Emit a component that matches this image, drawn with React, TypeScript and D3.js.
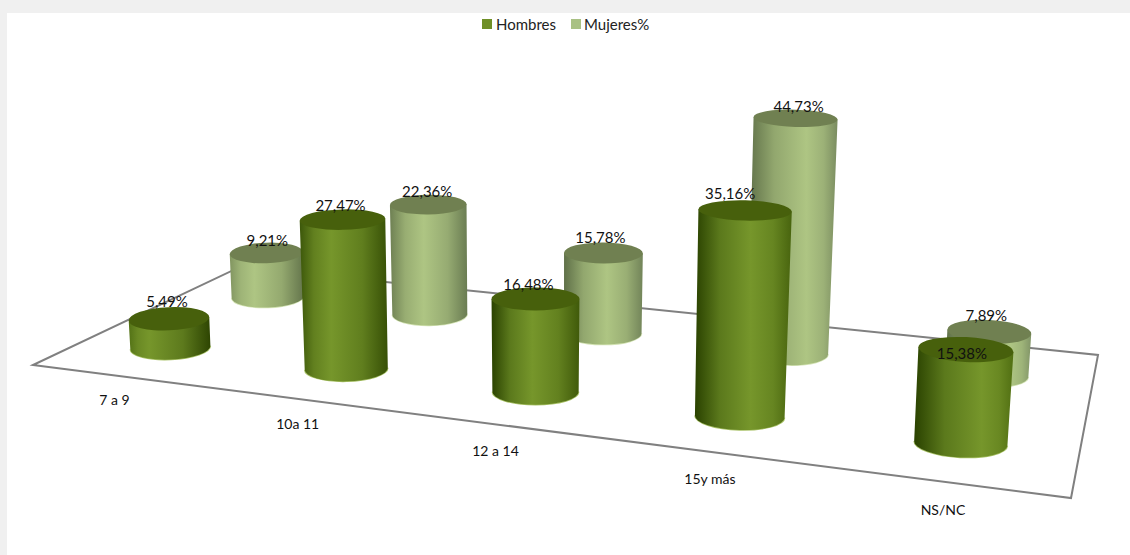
import React from "react";
import * as d3 from "d3";

const categories = ["7 a 9", "10a 11", "12 a 14", "15y más", "NS/NC"];
const seriesNames = ["Hombres", "Mujeres%"];
const hombres = [5.49, 27.47, 16.48, 35.16, 15.38];
const mujeres = [9.21, 22.36, 15.78, 44.73, 7.89];
const hombresText = ["5,49%", "27,47%", "16,48%", "35,16%", "15,38%"];
const mujeresText = ["9,21%", "22,36%", "15,78%", "44,73%", "7,89%"];

const W = 1130, H = 555;
// floor homography, unit square -> screen
const A = 843.1, B = 258.7, C = 33, D = 42.4, E = -40.5, F = 365, G = -0.182, I = 0.2155;
const project = (u: number, v: number) => {
  const w = G * u + I * v + 1;
  return { x: (A * u + B * v + C) / w, y: (D * u + E * v + F) / w, w };
};
const uScale = d3.scaleBand<number>().domain(d3.range(5)).range([0, 1]);
const uLabel = d3.scaleLinear().domain([0, 4]).range([0.135, 0.905]);
const vScale = d3.scaleOrdinal<number, number>().domain([0, 1]).range([0.225, 0.725]);
const hScale = d3.scaleLinear().domain([0, 50]).range([0, 270]);
const peak = d3.scaleLinear().domain([0.1, 0.9]).range([0.25, 0.68]);
const baseLift = 2;

const palettes = [
  { top: "#47600c", bright: "#76962b", rim: "#a9c268", l0: "#5f7f1c", l1: "#2a4200", r0: "#2a4000", r1: "#557414" },
  { top: "#708051", bright: "#aec583", rim: "#d3e3b4", l0: "#8b9f67", l1: "#5f7048", r0: "#5f7048", r1: "#85986a" },
];
// label nudges relative to the top of each cylinder
const labelDx = [[-2, -2, -7, -15, -4], [1, -1, -3, 3, -3]];
const labelDy = [[-18, -15, -15, -17, 3], [-13, -14, -16, -12, -17]];

const clamp = (t: number) => Math.max(0, Math.min(1, t));

function Cylinder({ s, i, value }: { s: number; i: number; value: number }) {
  const u = uScale(i)! + uScale.bandwidth() / 2;
  const q = project(u, vScale(s));
  const p = { x: q.x, y: q.y - baseLift, w: q.w };
  const pal = palettes[s];
  const h = hScale(value) / p.w;
  const rx = 41.3 / p.w;
  const ry = rx * 0.3;
  const tiltDeg = (p.x - 540) * 0.007;
  const t = (tiltDeg * Math.PI) / 180;
  const tx = p.x + (p.x - 540) * h * 1.3e-4;
  const ty = p.y - h;
  const trx = rx * (1 + h * 0.0002);
  const tryy = ry * (1 - h * 0.0012);
  const cx = Math.cos(t), sy = Math.sin(t);
  const bl = [p.x - rx * cx, p.y - rx * sy], br = [p.x + rx * cx, p.y + rx * sy];
  const tl = [tx - trx * cx, ty - trx * sy], tr = [tx + trx * cx, ty + trx * sy];
  const body = `M${tl} L${bl} A${rx} ${ry} ${tiltDeg} 0 0 ${br} L${tr} Z`;
  const rim = `M${bl} A${rx} ${ry} ${tiltDeg} 0 0 ${br}`;
  const id = `g${s}${i}`;
  const left = d3.interpolateRgb(pal.l0, pal.l1)(clamp(u * 2.2));
  const right = d3.interpolateRgb(pal.r0, pal.r1)(u);
  const pk = peak(u) + (s === 1 ? 0.08 : 0);
  const mixL = d3.interpolateRgb(left, pal.bright)(0.65);
  const mixR = d3.interpolateRgb(right, pal.bright)(0.65);
  return (
    <g>
      <defs>
        <linearGradient id={id} x1="0" x2="1" y1="0" y2="0">
          <stop offset="0" stopColor={left} />
          <stop offset={pk * 0.45} stopColor={mixL} />
          <stop offset={pk} stopColor={pal.bright} />
          <stop offset={pk + (1 - pk) * 0.55} stopColor={mixR} />
          <stop offset="1" stopColor={right} />
        </linearGradient>
      </defs>
      <path d={rim} fill="none" stroke={pal.rim} strokeWidth={1.5} />
      <path d={body} fill={`url(#${id})`} />
      <ellipse cx={tx} cy={ty} rx={trx} ry={tryy} fill={pal.top} transform={`rotate(${tiltDeg} ${tx} ${ty})`} />
    </g>
  );
}

function ValueLabel({ s, i, value, text }: { s: number; i: number; value: number; text: string }) {
  const u = uScale(i)! + uScale.bandwidth() / 2;
  const p = project(u, vScale(s));
  const h = hScale(value) / p.w;
  const tx = p.x + (p.x - 540) * h * 1.3e-4;
  return (
    <text x={tx + labelDx[s][i]} y={p.y - baseLift - h + labelDy[s][i]} textAnchor="middle" dominantBaseline="central"
      fontFamily="Lato" fontSize={15} fill="#111">{text}</text>
  );
}

export default function App() {
  const corners = [project(0, 0), project(1, 0), project(1, 1), project(0, 1)];
  const floor = d3.line<{ x: number; y: number }>().x(d => d.x).y(d => d.y).curve(d3.curveLinearClosed)(corners)!;
  const legend = [{ sx: 482, tx: 496 }, { sx: 571, tx: 584 }];
  return (
    <svg width={W} height={H} style={{ position: "fixed", left: 0, top: 0 }}>
      <rect width={W} height={H} fill="#f0f0f0" />
      <rect x={7} y={13} width={W - 7} height={H - 13} fill="#fff" />
      <path d={floor} fill="none" stroke="#808080" strokeWidth={2} />
      {legend.map((l, s) => (
        <g key={s}>
          <rect x={l.sx} y={19} width={10} height={10} fill={s === 0 ? "#6f8f27" : "#a9c184"} />
          <text x={l.tx} y={24} dominantBaseline="central" fontFamily="Lato" fontSize={15} fill="#222">{seriesNames[s]}</text>
        </g>
      ))}
      {categories.map((c, i) => {
        const p = project(uLabel(i), -0.15);
        return <text key={c} x={p.x} y={p.y} textAnchor="middle" dominantBaseline="central"
          fontFamily="Lato" fontSize={14} fill="#111">{c}</text>;
      })}
      {mujeres.map((v, i) => <Cylinder key={i} s={1} i={i} value={v} />)}
      {hombres.map((v, i) => <Cylinder key={i} s={0} i={i} value={v} />)}
      {mujeres.map((v, i) => <ValueLabel key={i} s={1} i={i} value={v} text={mujeresText[i]} />)}
      {hombres.map((v, i) => <ValueLabel key={i} s={0} i={i} value={v} text={hombresText[i]} />)}
    </svg>
  );
}
